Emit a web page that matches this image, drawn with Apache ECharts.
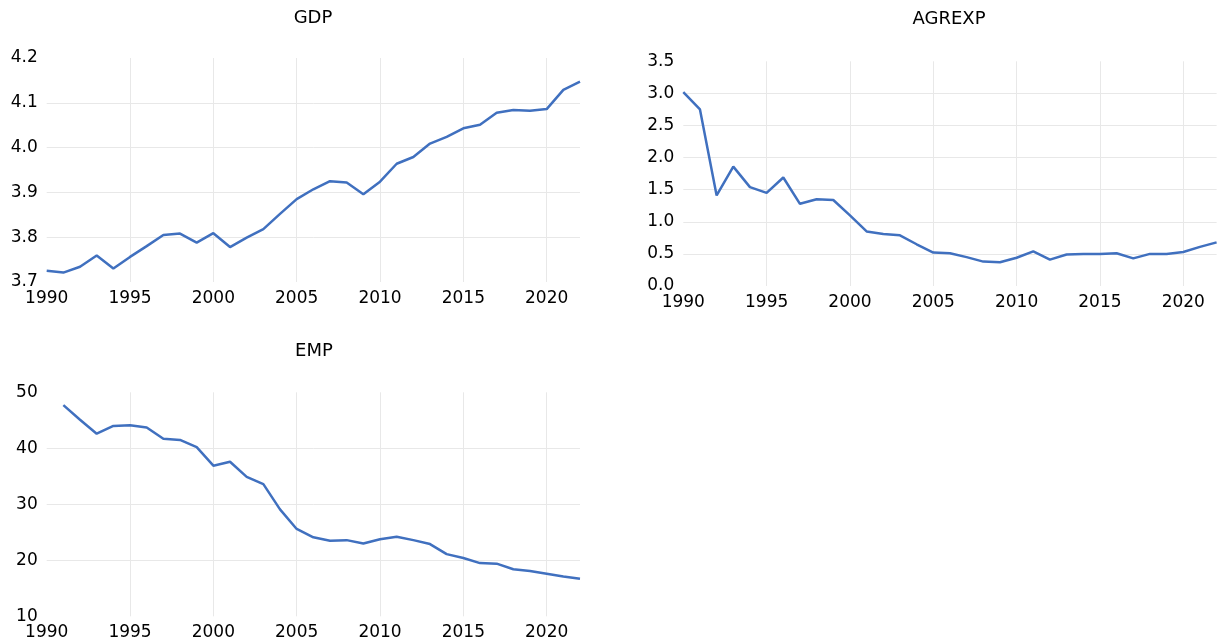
<!DOCTYPE html>
<html>
<head>
<meta charset="utf-8">
<script src="https://cdn.jsdelivr.net/npm/echarts@6/dist/echarts.min.js"></script>
<style>
html,body{margin:0;padding:0;background:#fff;}
#c{width:1223px;height:643px;}
</style>
</head>
<body>
<div id="c"></div>
<script>
const years = [1990,1991,1992,1993,1994,1995,1996,1997,1998,1999,2000,2001,2002,2003,2004,2005,2006,2007,2008,2009,2010,2011,2012,2013,2014,2015,2016,2017,2018,2019,2020,2021,2022];
const gdp = [3.725,3.721,3.734,3.759,3.730,3.756,3.780,3.805,3.808,3.788,3.809,3.778,3.799,3.818,3.852,3.885,3.907,3.925,3.922,3.896,3.924,3.964,3.979,4.009,4.024,4.043,4.051,4.078,4.084,4.082,4.086,4.129,4.147];
const agrexp = [3.02,2.75,1.41,1.86,1.54,1.45,1.69,1.28,1.35,1.34,1.10,0.85,0.81,0.79,0.65,0.52,0.51,0.45,0.38,0.37,0.44,0.54,0.41,0.49,0.50,0.50,0.51,0.43,0.50,0.50,0.53,0.61,0.68];
const emp = [null,47.7,45.1,42.6,44.0,44.1,43.7,41.7,41.5,40.2,36.9,37.6,34.9,33.6,29.1,25.6,24.1,23.5,23.6,23.0,23.75,24.2,23.6,22.9,21.1,20.4,19.5,19.4,18.4,18.1,17.6,17.1,16.7];
const titles = ['GDP','AGREXP','EMP'];

const FONT = 'DejaVu Sans';
const lineColor = '#4070BF';
const gridColor = '#e8e8e8';

function pairs(vals){ return years.map((y,i)=>[y, vals[i]]); }

const grids = [
  {left:46.7, width:533.3, top:58, height:224},
  {left:683.3, width:533.3, top:61.3, height:224.7},
  {left:46.7, width:533.3, top:392.3, height:224}
];
const yCfg = [
  {min:3.7, max:4.2, interval:0.1, dec:1},
  {min:0, max:3.5, interval:0.5, dec:1},
  {min:10, max:50, interval:10, dec:0}
];
const series = [gdp, agrexp, emp];

const xAxes = grids.map((g,i)=>({
  type:'value', gridIndex:i, min:1990, max:2022, interval:5,
  axisLine:{show:false}, axisTick:{show:false},
  axisLabel:{show:true, showMaxLabel:false, formatter:v=>String(v), color:'#000', fontFamily:FONT, fontSize:17, margin:8},
  splitLine:{show:true, showMinLine:false, showMaxLine:false, lineStyle:{color:gridColor, width:1}}
}));
const yAxes = yCfg.map((c,i)=>({
  type:'value', gridIndex:i, min:c.min, max:c.max, interval:c.interval,
  axisLine:{show:false}, axisTick:{show:false},
  axisLabel:{formatter:v=>v.toFixed(c.dec), color:'#000', fontFamily:FONT, fontSize:17, margin:9},
  splitLine:{show:true, showMinLine:false, showMaxLine:false, lineStyle:{color:gridColor, width:1}}
}));

const titlePos = [[313,18],[949,19.5],[314,351]];

const chart = echarts.init(document.getElementById('c'), null, {renderer:'canvas'});
chart.setOption({
  animation:false,
  backgroundColor:'#fff',
  grid: grids,
  xAxis: xAxes,
  yAxis: yAxes,
  graphic: titles.map((t,i)=>({
    type:'text', x:titlePos[i][0], y:titlePos[i][1],
    style:{text:t, fill:'#000', font:'18px "DejaVu Sans"', textAlign:'center', textVerticalAlign:'middle'}
  })),
  series: series.map((s,i)=>({
    type:'line', xAxisIndex:i, yAxisIndex:i, data:pairs(s),
    showSymbol:false, symbol:'none', connectNulls:false,
    lineStyle:{color:lineColor, width:2.5}
  }))
});
</script>
</body>
</html>
